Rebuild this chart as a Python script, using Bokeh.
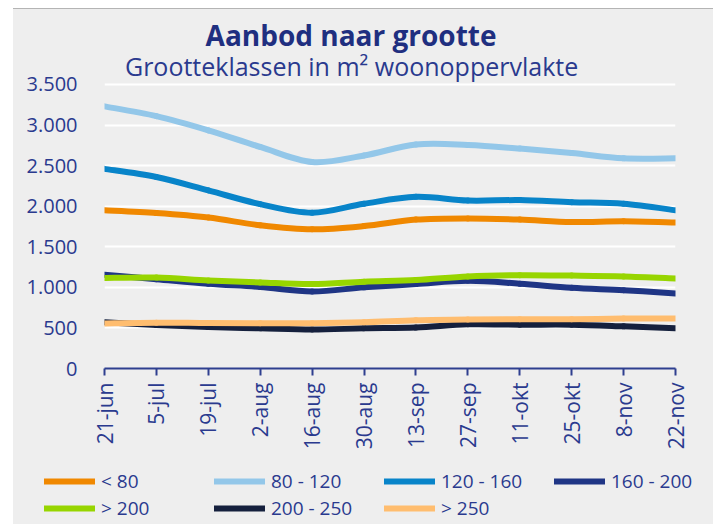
import numpy as np
from math import pi
from bokeh.plotting import figure
from bokeh.layouts import column
from bokeh.models import Range1d, FixedTicker, Label, Legend, LegendItem, ColumnDataSource
from bokeh.embed import file_html
from bokeh.resources import INLINE

# ---------------- data ----------------
dates = ["21-jun", "5-jul", "19-jul", "2-aug", "16-aug", "30-aug",
         "13-sep", "27-sep", "11-okt", "25-okt", "8-nov", "22-nov"]

y_ticks = [0, 500, 1000, 1500, 2000, 2500, 3000, 3500]
y_tick_labels = ["0", "500", "1.000", "1.500", "2.000", "2.500", "3.000", "3.500"]

series_names = ["< 80", "80 - 120", "120 - 160", "160 - 200", "> 200", "200 - 250", "> 250"]

lt80     = [1950, 1915, 1860, 1765, 1715, 1755, 1835, 1850, 1835, 1805, 1815, 1800]
r80_120  = [3230, 3110, 2935, 2730, 2545, 2625, 2760, 2755, 2710, 2655, 2590, 2590]
r120_160 = [2460, 2360, 2195, 2025, 1920, 2030, 2115, 2070, 2075, 2050, 2030, 1950]
r160_200 = [1155, 1100, 1045, 1005, 950, 1000, 1040, 1080, 1045, 995, 965, 925]
gt200    = [1115, 1120, 1085, 1060, 1040, 1070, 1090, 1135, 1150, 1145, 1135, 1110]
r200_250 = [570, 535, 510, 495, 480, 495, 505, 545, 540, 540, 520, 495]
gt250    = [555, 565, 560, 558, 558, 570, 595, 605, 607, 607, 615, 615]

series_values = [lt80, r80_120, r120_160, r160_200, gt200, r200_250, gt250]
colors = ["#f08800", "#93c7e9", "#0884c9", "#1f3585", "#97d500", "#15203d", "#ffbd6f"]

BG = "#eeeeee"
TEXT_COLOR = "#2a3a8e"
FONT = "Open Sans"


def smooth_segments(ys):
    """Cubic Bezier segments through the data points (Catmull-Rom style smoothing)."""
    y = np.asarray(ys, dtype=float)
    x = np.arange(len(y), dtype=float)
    n = len(y)
    xp = np.concatenate([[x[0]], x, [x[-1]]])
    yp = np.concatenate([[y[0]], y, [y[-1]]])
    return dict(
        x0=xp[1:n], y0=yp[1:n],
        x1=xp[2:n + 1], y1=yp[2:n + 1],
        cx0=xp[1:n] + (xp[2:n + 1] - xp[0:n - 1]) / 6.0,
        cy0=yp[1:n] + (yp[2:n + 1] - yp[0:n - 1]) / 6.0,
        cx1=xp[2:n + 1] - (xp[3:n + 2] - xp[1:n]) / 6.0,
        cy1=yp[2:n + 1] - (yp[3:n + 2] - yp[1:n]) / 6.0,
    )


# ---------------- main chart ----------------
# the frame reaches up to the top of the canvas so that the titles fit inside it
p = figure(width=700, height=453,
           x_range=Range1d(0, len(dates) - 1), y_range=Range1d(0, 4424),
           output_backend="svg", toolbar_location=None,
           min_border_left=91, min_border_right=38,
           min_border_top=0, min_border_bottom=94,
           background_fill_color=BG, border_fill_color=BG,
           outline_line_color=None)
p.frame_align = False

for vals, col in zip(series_values, colors):
    src = ColumnDataSource(smooth_segments(vals))
    p.bezier(x0="x0", y0="y0", x1="x1", y1="y1",
             cx0="cx0", cy0="cy0", cx1="cx1", cy1="cy1",
             source=src, line_color=col, line_width=6, line_cap="round")

p.yaxis.ticker = FixedTicker(ticks=y_ticks)
p.yaxis.major_label_overrides = dict(zip(y_ticks, y_tick_labels))
p.yaxis.axis_line_color = None
p.yaxis.major_tick_line_color = None
p.yaxis.minor_tick_line_color = None
p.yaxis.major_label_standoff = 21
p.yaxis.major_label_text_font_size = "20px"
p.yaxis.major_label_text_color = TEXT_COLOR
p.yaxis.major_label_text_font = FONT

p.xaxis.ticker = FixedTicker(ticks=list(range(len(dates))))
p.xaxis.major_label_overrides = {i: d for i, d in enumerate(dates)}
p.xaxis.major_label_orientation = pi / 2
p.xaxis.axis_line_color = "#2e3f8f"
p.xaxis.axis_line_width = 2
p.xaxis.major_tick_line_color = "#2e3f8f"
p.xaxis.major_tick_line_width = 2
p.xaxis.major_tick_out = 7
p.xaxis.major_tick_in = 0
p.xaxis.minor_tick_line_color = None
p.xaxis.major_label_standoff = 7
p.xaxis.major_label_text_font_size = "21px"
p.xaxis.major_label_text_color = TEXT_COLOR
p.xaxis.major_label_text_font = FONT

p.ygrid.ticker = FixedTicker(ticks=y_ticks)
p.ygrid.grid_line_color = "white"
p.ygrid.grid_line_width = 2
p.xgrid.visible = False

p.add_layout(Label(x=4.75, y=4104, text="Aanbod naar grootte",
                   text_align="center", text_baseline="middle",
                   text_font=FONT, text_font_size="28px", text_font_style="bold",
                   text_color="#1f2f80"))
p.add_layout(Label(x=4.76, y=3725, text="Grootteklassen in m² woonoppervlakte",
                   text_align="center", text_baseline="middle",
                   text_font=FONT, text_font_size="25px",
                   text_color=TEXT_COLOR))

# ---------------- legend strip ----------------
lg = figure(width=700, height=62,
            x_range=Range1d(0, 1), y_range=Range1d(0, 1),
            output_backend="svg", toolbar_location=None,
            x_axis_type=None, y_axis_type=None,
            min_border=0, min_border_left=0, min_border_right=0,
            min_border_top=0, min_border_bottom=0,
            background_fill_color=BG, border_fill_color=BG,
            outline_line_color=None)
lg.frame_align = False
lg.grid.visible = False

key_renderers = []
for vals, col in zip(series_values, colors):
    r = lg.line(x=list(range(len(vals))), y=vals, line_color=col,
                line_width=6, line_cap="round")
    r.visible = False
    key_renderers.append(r)

rows = [(series_names[:4], key_renderers[:4], 30),
        (series_names[4:], key_renderers[4:], 3.5)]
for names, rends, vy in rows:
    leg = Legend(items=[LegendItem(label=n, renderers=[r]) for n, r in zip(names, rends)],
                 location=(31, vy),
                 orientation="horizontal",
                 background_fill_alpha=0, border_line_alpha=0,
                 inactive_fill_alpha=0,
                 padding=0, margin=0, spacing=0,
                 glyph_width=51, glyph_height=20, label_height=20,
                 label_width=113, label_standoff=6, label_text_font=FONT,
                 label_text_font_size="19px", label_text_color=TEXT_COLOR)
    lg.add_layout(leg)

layout = column(p, lg, spacing=0,
                styles={"margin-left": "13px", "margin-top": "8px",
                        "border-top": "1px solid #b4b4b4",
                        "background-color": BG})

open("out.html", "w").write(file_html(layout, INLINE))
